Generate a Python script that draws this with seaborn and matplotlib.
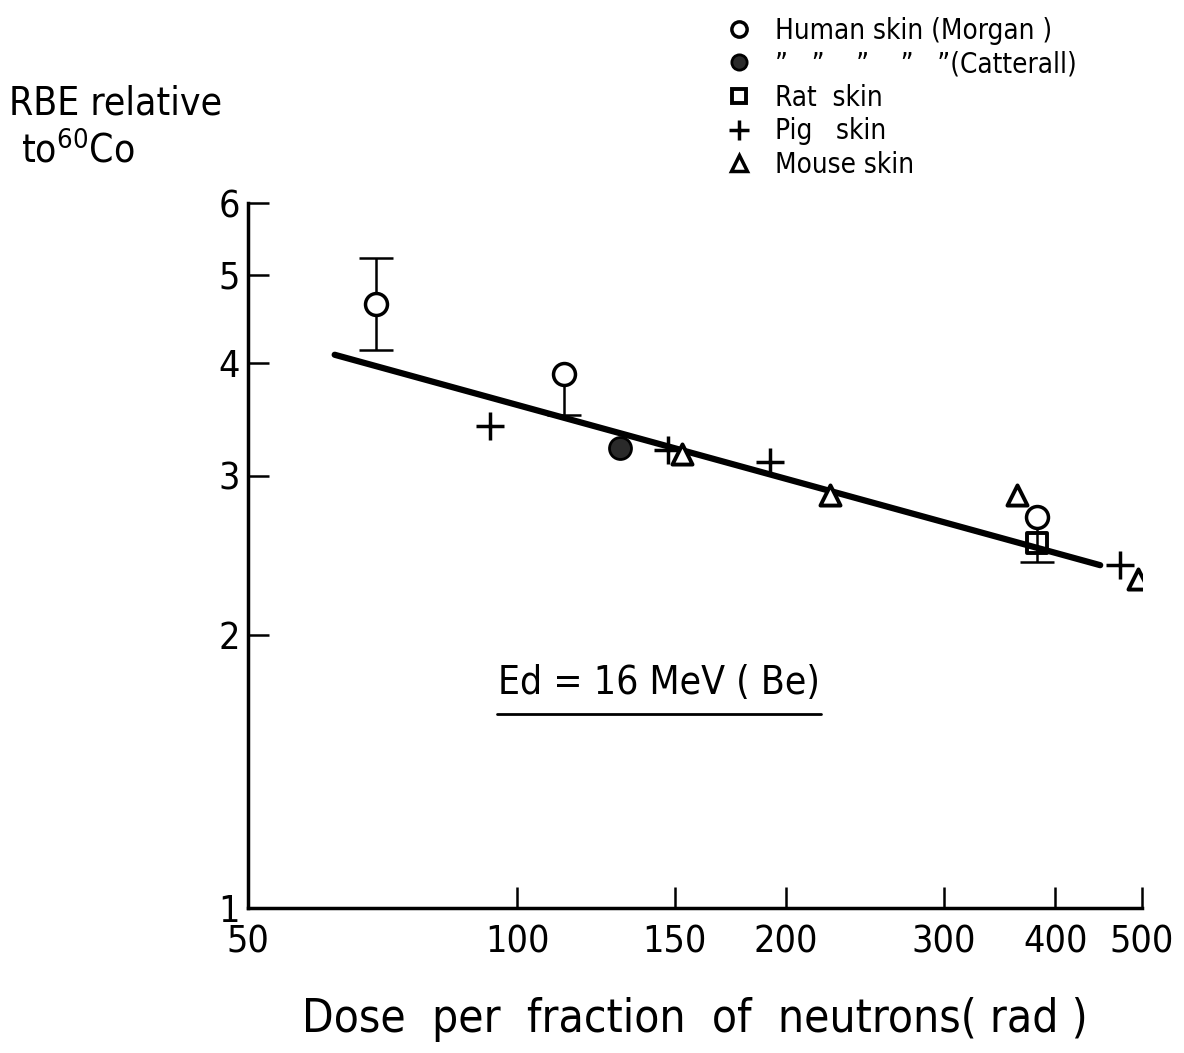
import matplotlib
matplotlib.use("Agg")
import matplotlib.pyplot as plt
import seaborn as sns
import pandas as pd
from matplotlib.lines import Line2D

sns.set_theme(style="ticks")
plt.rcParams['font.family'] = ['DejaVu Sans']
plt.rcParams['font.stretch'] = 'condensed'
plt.rcParams['text.color'] = 'black'
plt.rcParams['axes.labelcolor'] = 'black'
plt.rcParams['xtick.color'] = 'black'
plt.rcParams['ytick.color'] = 'black'

# ---- data ----
morgan_x = [69.5, 112.9, 381.5]
morgan_y = [4.64, 3.89, 2.70]
morgan_err_lo = [0.51, 0.39, 0.0]
morgan_err_hi = [0.58, 0.0, 0.0]

catterall_x = [130.4]
catterall_y = [3.22]

rat_x = [381.5]
rat_y = [2.53]
rat_err_lo = [0.12]
rat_err_hi = [0.17]   # link up to the Morgan point (no cap)

pig_x = [93.3, 147.5, 191.8, 472.0]
pig_y = [3.40, 3.20, 3.11, 2.39]

mouse_x = [153.0, 224.0, 362.0, 495.0]
mouse_y = [3.17, 2.86, 2.86, 2.31]

fit_x = [62.5, 449.0]
fit_y = [4.08, 2.39]

x_ticks = [50, 100, 150, 200, 300, 400, 500]
y_ticks = [1, 2, 3, 4, 5, 6]

legend_labels = ["Human skin (Morgan )", "\u201d   \u201d    \u201d    \u201d   \u201d(Catterall)",
                 "Rat  skin", "Pig   skin", "Mouse skin"]

# ---- figure ----
fig = plt.figure(figsize=(11.84, 10.53), dpi=100)
ax = fig.add_axes([0.2095, 0.1377, 0.755, 0.6695])
ax.set_xscale("log")
ax.set_yscale("log")
ax.set_xlim(50, 500)
ax.set_ylim(1, 6)

fit_df = pd.DataFrame({"x": fit_x, "y": fit_y})
sns.lineplot(data=fit_df, x="x", y="y", ax=ax, color="black", lw=4.5, legend=False)


def bars(xs, ys, lo, hi, cap_hi=True):
    for x, y, l, h in zip(xs, ys, lo, hi):
        ax.vlines(x, y - l, y + h, color="black", lw=1.8, zorder=3)
        if l > 0:
            ax.plot([x], [y - l], marker="_", ms=24, mew=1.8, color="black", zorder=3)
        if h > 0 and cap_hi:
            ax.plot([x], [y + h], marker="_", ms=24, mew=1.8, color="black", zorder=3)


bars(morgan_x, morgan_y, morgan_err_lo, morgan_err_hi)
bars(rat_x, rat_y, rat_err_lo, rat_err_hi, cap_hi=False)

ms = 250
sns.scatterplot(x=morgan_x, y=morgan_y, ax=ax, marker="o", s=ms, facecolor="white",
                edgecolor="black", linewidth=2.5, zorder=5)
sns.scatterplot(x=catterall_x, y=catterall_y, ax=ax, marker="o", s=ms, color="#2a2a2a",
                edgecolor="black", linewidth=2, zorder=5)
sns.scatterplot(x=rat_x, y=rat_y, ax=ax, marker="s", s=200, facecolor="none",
                edgecolor="black", linewidth=2.8, zorder=5)
ax.scatter(pig_x, pig_y, marker="+", s=380, color="black", linewidths=2.5, zorder=5)
sns.scatterplot(x=mouse_x, y=mouse_y, ax=ax, marker="^", s=210, facecolor="white",
                edgecolor="black", linewidth=2.8, zorder=5)

ax.set_xticks(x_ticks)
ax.set_xticklabels([str(v) for v in x_ticks])
ax.set_yticks(y_ticks)
ax.set_yticklabels([str(v) for v in y_ticks])
ax.minorticks_off()
ax.tick_params(axis="both", which="both", direction="in", length=15, width=1.8,
               color="black", labelcolor="black", labelsize=27, pad=6,
               bottom=True, left=True, top=False, right=False)
ax.tick_params(axis="x", pad=12)

for side in ["top", "right"]:
    ax.spines[side].set_visible(False)
for side in ["left", "bottom"]:
    ax.spines[side].set_color("black")
    ax.spines[side].set_linewidth(2.5)

ax.set_xlabel("Dose  per  fraction  of  neutrons( rad )", fontsize=33, labelpad=26)
ax.set_ylabel("")
fig.text(0.008, 0.902, "RBE relative", fontsize=28, ha="left", va="center")
fig.text(0.018, 0.857, "to$^{60}$Co", fontsize=28, ha="left", va="center")

ax.text(0.46, 0.319, "Ed = 16 MeV ( Be)", transform=ax.transAxes, fontsize=28,
        ha="center", va="center")
ax.plot([0.278, 0.641], [0.275, 0.275], transform=ax.transAxes, color="black", lw=2)

handles = [
    Line2D([], [], ls="none", marker="o", ms=11, mfc="white", mec="black", mew=2.5),
    Line2D([], [], ls="none", marker="o", ms=11, mfc="#2a2a2a", mec="black", mew=2),
    Line2D([], [], ls="none", marker="s", ms=10, mfc="none", mec="black", mew=2.8),
    Line2D([], [], ls="none", marker="+", ms=14, color="black", mew=2.5),
    Line2D([], [], ls="none", marker="^", ms=11, mfc="white", mec="black", mew=2.5),
]
fig.legend(handles, legend_labels, loc="upper left", bbox_to_anchor=(0.591, 1.008),
           frameon=False, fontsize=20, handletextpad=0.8, labelspacing=0.2,
           handlelength=1.0)

fig.savefig("out.png", dpi=100, facecolor="white")
